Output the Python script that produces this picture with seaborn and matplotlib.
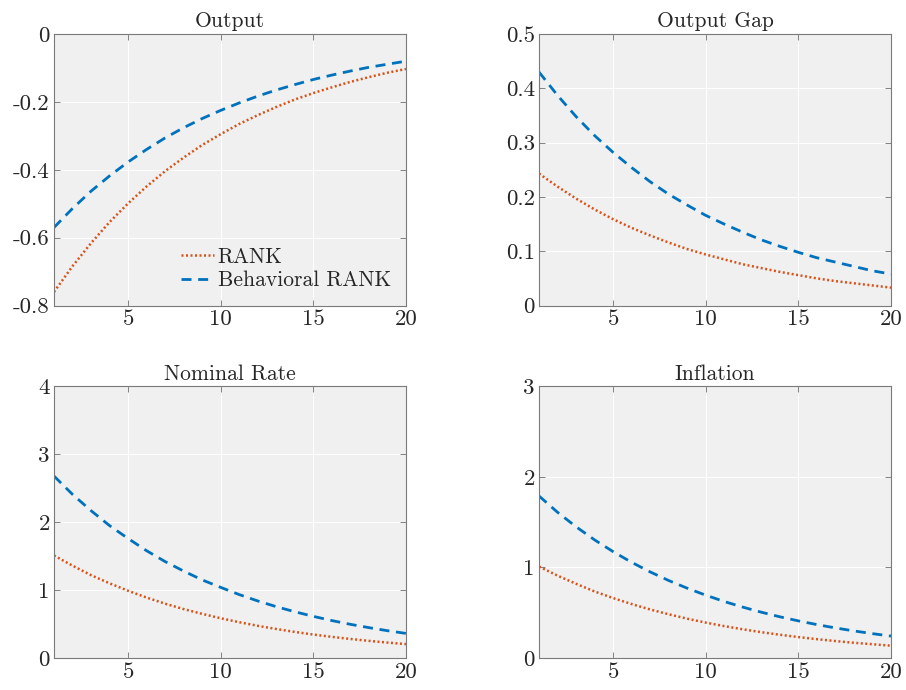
import numpy as np
import pandas as pd
import matplotlib
matplotlib.use("Agg")
import matplotlib.pyplot as plt
import seaborn as sns

periods = list(range(1, 21))

output_rank = [-0.760, -0.684, -0.616, -0.554, -0.499, -0.449, -0.404, -0.364, -0.327, -0.295,
               -0.265, -0.239, -0.215, -0.193, -0.174, -0.157, -0.141, -0.127, -0.114, -0.103]
output_brank = [-0.570, -0.514, -0.463, -0.418, -0.377, -0.340, -0.306, -0.276, -0.249, -0.225,
                -0.203, -0.183, -0.165, -0.149, -0.134, -0.121, -0.109, -0.098, -0.089, -0.080]

gap_rank = [0.243, 0.219, 0.197, 0.177, 0.159, 0.143, 0.129, 0.116, 0.104, 0.094,
            0.085, 0.076, 0.069, 0.062, 0.056, 0.050, 0.045, 0.041, 0.037, 0.033]
gap_brank = [0.430, 0.387, 0.348, 0.313, 0.282, 0.254, 0.228, 0.205, 0.185, 0.166,
             0.150, 0.135, 0.121, 0.109, 0.098, 0.088, 0.080, 0.072, 0.064, 0.058]

rate_rank = [1.51, 1.36, 1.22, 1.10, 0.99, 0.89, 0.80, 0.72, 0.65, 0.585,
             0.527, 0.474, 0.427, 0.384, 0.345, 0.311, 0.280, 0.252, 0.227, 0.204]
rate_brank = [2.68, 2.41, 2.17, 1.95, 1.76, 1.58, 1.42, 1.28, 1.15, 1.04,
              0.934, 0.840, 0.756, 0.681, 0.613, 0.551, 0.496, 0.447, 0.402, 0.362]

infl_rank = [1.01, 0.91, 0.82, 0.735, 0.662, 0.596, 0.536, 0.483, 0.434, 0.391,
             0.352, 0.317, 0.285, 0.257, 0.231, 0.208, 0.187, 0.168, 0.152, 0.136]
infl_brank = [1.79, 1.61, 1.45, 1.305, 1.175, 1.057, 0.951, 0.856, 0.771, 0.694,
              0.624, 0.562, 0.506, 0.455, 0.410, 0.369, 0.332, 0.299, 0.269, 0.242]

titles = ["Output", "Output Gap", "Nominal Rate", "Inflation"]
ylims = [(-0.8, 0), (0, 0.5), (0, 4), (0, 3)]
yticks = [[-0.8, -0.6, -0.4, -0.2, 0], [0, 0.1, 0.2, 0.3, 0.4, 0.5], [0, 1, 2, 3, 4], [0, 1, 2, 3]]
yticklabels = [["-0.8", "-0.6", "-0.4", "-0.2", "0"], ["0", "0.1", "0.2", "0.3", "0.4", "0.5"],
               ["0", "1", "2", "3", "4"], ["0", "1", "2", "3"]]
series = [(output_rank, output_brank), (gap_rank, gap_brank),
          (rate_rank, rate_brank), (infl_rank, infl_brank)]

sns.set_style("whitegrid")
plt.rcParams["font.family"] = ["cmr10", "DejaVu Serif"]
plt.rcParams["axes.unicode_minus"] = False
plt.rcParams["mathtext.fontset"] = "cm"

fig, axes = plt.subplots(2, 2, figsize=(9.06, 6.9), dpi=100)
fig.subplots_adjust(left=0.0596, right=0.9834, top=0.9507, bottom=0.0464, wspace=0.378, hspace=0.298)

for i, ax in enumerate(axes.flat):
    r, b = series[i]
    df = pd.DataFrame({"t": periods, "RANK": r, "Behavioral RANK": b})
    sns.lineplot(data=df, x="t", y="RANK", ax=ax, color="#D95319", linestyle=(0, (0.8, 1.0)),
                 linewidth=1.8, label="RANK")
    sns.lineplot(data=df, x="t", y="Behavioral RANK", ax=ax, color="#0072BD", linestyle=(0, (3.6, 2.4)),
                 linewidth=2, label="Behavioral RANK")
    ax.set_facecolor("#f0f0f0")
    ax.grid(True, color="white", linewidth=0.8)
    ax.set_xlim(1, 20)
    ax.set_ylim(*ylims[i])
    ax.set_xticks([5, 10, 15, 20])
    ax.set_xticklabels(["5", "10", "15", "20"])
    ax.set_yticks(yticks[i])
    ax.set_yticklabels(yticklabels[i])
    ax.set_xlabel("")
    ax.set_ylabel("")
    ax.set_title(titles[i], fontsize=15.5, pad=5)
    ax.tick_params(axis="both", labelsize=16.5, direction="in", length=4, width=0.6, color="#6e6e6e",
                   top=True, right=True, bottom=True, left=True, pad=3)
    for s in ax.spines.values():
        s.set_visible(True)
        s.set_color("#7a7a7a")
        s.set_linewidth(0.8)
    if i == 0:
        ax.legend(loc="lower right", frameon=False, fontsize=15.5, handlelength=1.55,
                  handletextpad=0.15, borderaxespad=0.3, labelspacing=0.2)
    else:
        ax.get_legend().remove()

fig.savefig("out.png", dpi=100)
